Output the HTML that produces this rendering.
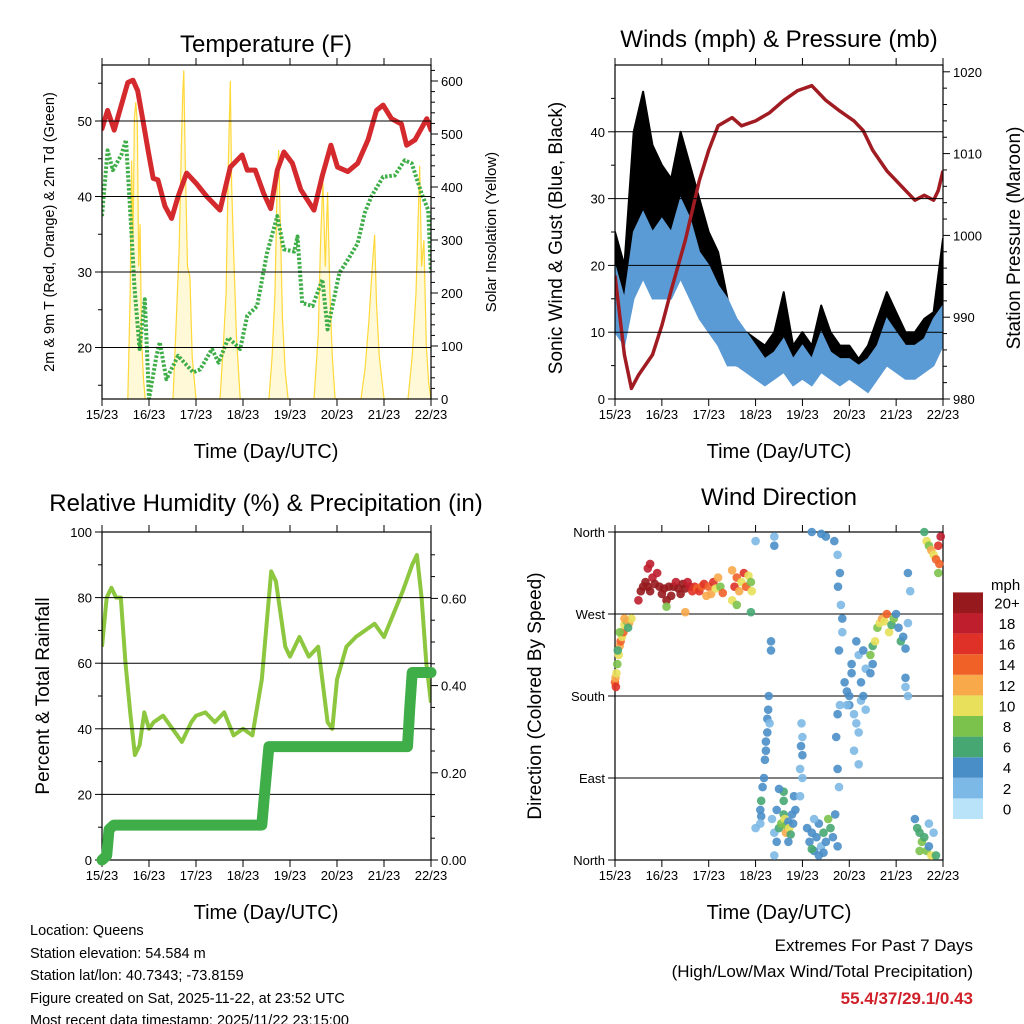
<!DOCTYPE html>
<html><head><meta charset="utf-8">
<style>
html,body{margin:0;padding:0;background:#fff;}
svg{display:block;font-family:"Liberation Sans",Arial,sans-serif;}
</style></head>
<body>
<svg id="chart" width="1024" height="1024" viewBox="0 0 1024 1024" xmlns="http://www.w3.org/2000/svg">
<rect width="1024" height="1024" fill="#fff"/>
<text x="266" y="52" font-size="24" text-anchor="middle">Temperature (F)</text>
<text x="779" y="47" font-size="24" text-anchor="middle">Winds (mph) &amp; Pressure (mb)</text>
<text x="266" y="511" font-size="24" text-anchor="middle">Relative Humidity (%) &amp; Precipitation (in)</text>
<text x="779" y="505" font-size="24" text-anchor="middle">Wind Direction</text>
<text x="266" y="458" font-size="20" text-anchor="middle">Time (Day/UTC)</text>
<text x="779" y="458" font-size="20" text-anchor="middle">Time (Day/UTC)</text>
<text x="266" y="919" font-size="20" text-anchor="middle">Time (Day/UTC)</text>
<text x="779" y="919" font-size="20" text-anchor="middle">Time (Day/UTC)</text>
<text transform="translate(54,232) rotate(-90)" font-size="14.5" text-anchor="middle">2m &amp; 9m T (Red, Orange) &amp; 2m Td (Green)</text>
<text transform="translate(496,232) rotate(-90)" font-size="15" text-anchor="middle">Solar Insolation (Yellow)</text>
<text transform="translate(562,238) rotate(-90)" font-size="19" text-anchor="middle">Sonic Wind &amp; Gust (Blue, Black)</text>
<text transform="translate(1020,238) rotate(-90)" font-size="19" text-anchor="middle">Station Pressure (Maroon)</text>
<text transform="translate(49,696) rotate(-90)" font-size="19" text-anchor="middle">Percent &amp; Total Rainfall</text>
<text transform="translate(541,696) rotate(-90)" font-size="19" text-anchor="middle">Direction (Colored By Speed)</text>
<g font-size="14.5">
<text x="30" y="935">Location: Queens</text>
<text x="30" y="958">Station elevation: 54.584 m</text>
<text x="30" y="980">Station lat/lon: 40.7343; -73.8159</text>
<text x="30" y="1003">Figure created on Sat, 2025-11-22, at 23:52 UTC</text>
<text x="30" y="1025">Most recent data timestamp: 2025/11/22 23:15:00</text>
</g>
<text x="973" y="951" font-size="17" text-anchor="end">Extremes For Past 7 Days</text>
<text x="973" y="977" font-size="17" text-anchor="end">(High/Low/Max Wind/Total Precipitation)</text>
<text x="973" y="1004" font-size="17" font-weight="bold" fill="#d0202a" text-anchor="end">55.4/37/29.1/0.43</text>
<text x="991" y="590" font-size="15">mph</text>
</svg>
<script>
// ---------- data ----------
const dayLabels = ["15/23","16/23","17/23","18/23","19/23","20/23","21/23","22/23"];
const tempTimes = [0,0.12,0.26,0.37,0.55,0.66,0.76,0.87,0.98,1.09,1.19,1.34,1.48,1.62,1.80,2.01,2.23,2.51,2.73,2.98,3.09,3.26,3.44,3.59,3.73,3.87,4.05,4.23,4.51,4.69,4.87,5.01,5.23,5.44,5.66,5.84,5.98,6.16,6.37,6.48,6.66,6.91,7.0];
const tempValues = [49.0,51.4,48.8,51.2,55.1,55.4,54.0,50.1,46.1,42.4,42.2,38.7,37.1,40.0,43.1,41.7,40.0,38.2,43.9,45.5,43.5,43.5,40.4,38.4,43.5,45.9,44.4,40.9,38.2,42.8,46.8,43.9,43.3,44.4,47.5,51.4,52.1,50.3,49.6,46.8,47.5,50.3,48.8];
const dewTimes = [0,0.12,0.23,0.41,0.51,0.62,0.69,0.80,0.91,1.0,1.16,1.23,1.37,1.62,1.94,2.09,2.34,2.48,2.69,2.94,3.09,3.30,3.51,3.73,3.87,4.09,4.16,4.26,4.48,4.69,4.80,5.05,5.23,5.44,5.59,5.73,5.98,6.23,6.44,6.59,6.80,6.94,7.0];
const dewValues = [37.4,46.1,43.5,45.5,47.5,36.0,28.1,19.8,26.4,13.2,18.9,20.7,15.8,18.9,16.7,17.1,19.8,18.0,21.3,19.8,24.2,25.5,32.5,37.4,33.0,32.7,34.7,25.9,25.5,29.0,22.4,29.9,31.6,33.8,37.8,40.0,42.6,42.8,44.8,44.4,40.4,38.2,29.9];
const solarTimes = [0.55,0.60,0.63,0.66,0.69,0.72,0.75,0.78,0.81,0.84,0.88,0.92, 1.51,1.58,1.64,1.69,1.72,1.74,1.77,1.82,1.87,1.92,2.0, 2.51,2.58,2.64,2.69,2.73,2.76,2.8,2.86,2.94, 3.55,3.62,3.68,3.73,3.76,3.79,3.84,3.9,3.96, 4.51,4.6,4.65,4.7,4.75,4.8,4.85,4.9,4.96, 5.51,5.6,5.68,5.75,5.8,5.84,5.9,6.0, 6.51,6.6,6.68,6.73,6.76,6.8,6.85,6.9,6.95,7.0];
const solarValues = [0,200,450,300,530,560,520,250,330,120,40,0, 0,150,280,480,580,620,450,250,230,80,0, 0,100,200,450,600,400,280,120,0, 0,80,200,420,470,350,150,50,0, 0,120,300,410,250,390,200,80,0, 0,60,150,250,310,180,80,0, 0,80,200,350,440,250,300,100,30,0];

const windTimes = [0,0.2,0.4,0.6,0.8,1.0,1.2,1.4,1.6,1.8,2.0,2.2,2.4,2.6,2.8,3.0,3.2,3.4,3.6,3.8,4.0,4.2,4.4,4.6,4.8,5.0,5.2,5.4,5.6,5.8,6.0,6.2,6.4,6.6,6.8,7.0];
const windLow = [10,8,15,18,15,15,15,18,15,12,10,8,5,5,4,3,2,3,4,2,3,2,4,3,2,3,2,1,3,5,4,3,3,4,5,8];
const windHigh = [20,15,25,28,25,27,25,30,27,22,20,17,15,12,10,8,6,7,9,6,8,6,10,7,6,6,5,6,8,12,10,8,8,9,12,14];
const gustLow = [14,12,20,25,20,20,18,20,18,15,12,10,6,5,5,4,3,5,6,3,5,3,6,4,4,4,3,3,5,7,6,5,4,6,6,10];
const gustHigh = [25,20,40,46,38,35,33,40,35,30,25,22,15,10,10,9,8,10,16,8,10,8,14,10,8,8,6,8,12,16,13,10,10,12,13,24];
const presTimes = [0,0.2,0.35,0.5,0.8,1.0,1.2,1.5,1.8,2.0,2.2,2.5,2.7,3.0,3.3,3.6,3.9,4.2,4.5,4.8,5.1,5.3,5.5,5.8,6.0,6.2,6.4,6.6,6.8,6.9,7.0];
const presValues = [995.1,985.4,981.3,982.9,985.4,989.0,993.3,999.4,1006.7,1010.4,1013.4,1014.4,1013.4,1014.0,1015.0,1016.5,1017.7,1018.3,1016.5,1015.2,1014.0,1012.8,1010.4,1007.9,1006.7,1005.5,1004.3,1004.9,1004.3,1005.5,1007.9];

const rhTimes = [0,0.1,0.2,0.3,0.4,0.5,0.6,0.7,0.8,0.9,1.0,1.1,1.3,1.5,1.7,1.9,2.0,2.2,2.4,2.6,2.8,3.0,3.2,3.4,3.6,3.7,3.9,4.0,4.2,4.4,4.6,4.8,4.9,5.0,5.2,5.4,5.6,5.8,6.0,6.2,6.4,6.6,6.7,6.8,6.9,7.0];
const rhValues = [65,80,83,80,80,60,45,32,35,45,40,42,44,40,36,42,44,45,42,45,38,40,38,55,88,85,65,62,68,62,65,42,40,55,65,68,70,72,68,75,82,90,93,80,60,48];
const rainTimes = [0,0.1,0.15,0.25,3.4,3.45,3.55,6.5,6.55,6.6,7.0];
const rainValues = [0,0.01,0.07,0.08,0.08,0.14,0.26,0.26,0.35,0.43,0.43];

const dirTimes = [0,0.01,0.03,0.05,0.08,0.1,0.12,0.15,0.18,0.2,0.25,0.3,0.35,0.02,0.06,0.1,0.2,0.28,
0.5,0.55,0.6,0.65,0.7,0.75,0.8,0.85,0.9,0.95,1.0,1.05,1.1,1.15,1.2,1.25,1.3,1.35,1.4,1.45,1.5,1.55,1.6,1.65,1.7,1.75,1.8,1.85,1.9,1.95,2.0,2.05,2.1,2.15,2.2,2.25,2.3,
2.5,2.55,2.6,2.65,2.7,2.75,2.8,2.85,2.9,2.92,2.5,2.6,1.1,1.5,0.7,0.75,2.9,
3.0,3.4,3.4,3.33,3.33,3.28,3.27,3.25,3.25,3.22,3.2,3.18,3.15,3.12,3.1,3.12,3.1,3.22,3.3,3.0,
3.35,3.4,3.45,3.45,3.5,3.55,3.6,3.62,3.65,3.65,3.7,3.72,3.75,3.78,3.8,3.85,3.4,3.6,3.6,3.5,3.82,3.7,
3.98,4.0,3.97,4.0,3.95,4.0,3.95,
4.1,4.15,4.2,4.25,4.3,4.35,4.35,4.4,4.45,4.5,4.55,4.6,4.65,4.7,4.75,4.2,4.45,4.25,
4.2,4.4,4.5,4.68,4.75,4.8,4.76,4.82,4.85,4.85,4.78,4.8,4.75,4.72,4.75,4.78,
4.9,4.95,5.0,5.05,5.0,5.1,5.15,5.2,5.25,5.3,5.35,5.25,5.2,5.15,5.3,5.35,5.1,5.2,5.05,4.95,
5.45,5.5,5.55,5.6,5.65,5.7,5.75,5.8,5.85,5.9,5.95,6.0,6.05,6.1,6.15,6.2,6.25,6.3,6.25,6.25,6.2,6.2,5.5,5.45,
6.4,6.45,6.5,6.55,6.6,6.65,6.7,6.75,6.8,6.7,6.5,6.85,
6.65,6.7,6.75,6.8,6.85,6.9,6.92,6.95,6.9,6.6];
const dirDegrees = [195,200,205,215,225,235,240,245,250,258,262,260,265,190,230,250,265,255,
285,295,300,305,300,295,310,303,315,300,292,298,285,300,290,300,305,298,292,303,298,305,300,295,300,298,295,300,303,290,300,292,305,298,310,300,293,
318,300,310,295,305,315,300,312,305,295,285,280,278,272,320,325,272,
350,355,345,240,230,180,165,155,140,120,110,90,80,65,55,48,40,130,150,35,
45,30,20,55,35,40,50,45,38,30,42,35,28,50,40,55,5,65,75,78,70,20,
150,135,125,115,100,90,70,
35,20,30,10,25,40,5,15,30,20,45,35,25,50,15,12,8,45,
360,358,355,350,335,315,300,280,265,250,230,170,160,135,100,80,
195,185,180,205,170,160,150,140,175,180,165,195,225,240,230,210,120,105,215,170,
225,235,240,255,260,265,262,270,250,258,265,270,255,240,245,232,260,295,315,180,200,190,215,205,
45,35,30,20,25,10,15,5,30,40,10,5,
350,345,340,335,330,345,325,355,315,360];
const dirSpeeds = [14,12,10,8,10,12,14,10,14,10,8,12,10,16,6,8,12,6,
18,20,20,20,20,20,18,20,18,20,20,20,20,20,20,20,18,20,20,20,20,18,18,16,16,14,16,14,16,12,14,12,16,10,12,8,14,
12,16,14,12,10,16,14,10,8,10,10,8,8,12,18,18,6,
2,2,4,4,4,4,4,4,4,4,4,4,4,6,4,4,2,4,2,2,
2,2,4,4,6,8,6,10,8,12,4,10,6,4,4,4,2,6,6,4,4,4,
2,2,4,4,2,2,2,
4,4,4,4,4,4,4,2,6,4,8,6,4,4,4,6,4,2,
4,4,4,4,2,4,4,2,4,2,4,2,4,4,4,2,
4,4,4,4,4,2,2,2,2,4,2,4,2,4,4,2,2,2,4,2,
8,6,10,8,10,12,10,14,10,6,8,4,4,6,4,4,2,2,4,2,4,2,4,4,
4,6,6,8,6,8,4,10,2,2,8,6,
10,8,12,10,14,16,14,18,8,6];
const speedBins = ["0","2","4","6","8","10","12","14","16","18","20+"];
const speedColors = ["#b9e3f8","#7db9e6","#4a8ec8","#47a772","#7bc24c","#e8e05a","#f8a94a","#f06128","#df3127","#bf1e2d","#961a1d"];

// ---------- helpers ----------
const NS = "http://www.w3.org/2000/svg";
const svg = document.getElementById("chart");
function mk(tag, attrs, parent) {
  const e = document.createElementNS(NS, tag);
  for (const k in attrs) e.setAttribute(k, attrs[k]);
  (parent || svg).appendChild(e);
  return e;
}
const P1 = {x0:102,x1:431,y0:65,y1:399};
const P2 = {x0:615,x1:943,y0:65,y1:399};
const P3 = {x0:102,x1:431,y0:532,y1:860};
const P4 = {x0:615,x1:943,y0:532,y1:860};
function xDay(P, d) { return P.x0 + d * (P.x1 - P.x0) / 7; }
const yTemp = v => 121 + (50 - v) * 7.55;
const ySolar = w => 399 - w * 0.53;
const yWind = v => 399 - v * 6.68;
const yPres = mb => 399 - (mb - 980) * 8.18;
const yRH = v => 860 - v * 3.28;
const yRain = v => 860 - v * 436;
const yDir = deg => 860 - deg * 0.9111;

function frame(P, name) {
  const r = mk("rect", {x:P.x0, y:P.y0, width:P.x1-P.x0, height:P.y1-P.y0, fill:"none", stroke:"#000", "stroke-width":1.2});
  
  
  for (let i = 0; i < dayLabels.length; i++) {
    const x = xDay(P, i);
    const tb = mk("line", {x1:x, x2:x, y1:P.y1, y2:P.y1+7, stroke:"#000"});
    
    
    const tt = mk("line", {x1:x, x2:x, y1:P.y0, y2:P.y0-7, stroke:"#000"});
    
    
    const lb = mk("text", {x:x, y:P.y1+20, "font-size":13, "text-anchor":"middle"});
    lb.textContent = dayLabels[i];
    
    
  }
}
function leftAxis(P, vals, labels, yf, minors, grid) {
  for (let i = 0; i < vals.length; i++) {
    const y = yf(vals[i]);
    const t = mk("line", {x1:P.x0-7, x2:P.x0, y1:y, y2:y, stroke:"#000"});
    
    
    const l = mk("text", {x:P.x0-10, y:y+5, "font-size":13, "text-anchor":"end"});
    l.textContent = labels[i];
    
    
  }
  for (const g of grid) {
    const y = yf(g);
    const gl = mk("line", {x1:P.x0, x2:P.x1, y1:y, y2:y, stroke:"#000", "stroke-width":1});
    
    
  }
  for (const m of minors) {
    const y = yf(m);
    const t = mk("line", {x1:P.x0-4, x2:P.x0, y1:y, y2:y, stroke:"#000"});
    
    
  }
}
function rightAxis(P, vals, labels, yf, minors) {
  for (let i = 0; i < vals.length; i++) {
    const y = yf(vals[i]);
    const t = mk("line", {x1:P.x1, x2:P.x1+7, y1:y, y2:y, stroke:"#000"});
    
    
    const l = mk("text", {x:P.x1+10, y:y+5, "font-size":13, "text-anchor":"start"});
    l.textContent = labels[i];
    
    
  }
  for (const m of minors) {
    const y = yf(m);
    const t = mk("line", {x1:P.x1, x2:P.x1+4, y1:y, y2:y, stroke:"#000"});
    
    
  }
}
function path(xs, ys) {
  return xs.map((x, i) => (i ? "L" : "M") + x.toFixed(1) + "," + ys[i].toFixed(1)).join("");
}
function clip(P, id) {
  const cp = mk("clipPath", {id:id});
  mk("rect", {x:P.x0, y:P.y0, width:P.x1-P.x0, height:P.y1-P.y0}, cp);
}

// ---------- Panel 1: temperature ----------
clip(P1, "c1");
const g1 = mk("g", {"clip-path":"url(#c1)"});


const solarPts = solarTimes.map((t, i) => [xDay(P1, t), ySolar(solarValues[i])]);
const solar = mk("path", {d:"M" + solarPts.map(p => p[0].toFixed(1) + "," + p[1].toFixed(1)).join("L"), fill:"#fff3b0", "fill-opacity":0.5, stroke:"#ffd83a", "stroke-width":1.2}, g1);


const dew = mk("path", {d:path(dewTimes.map(t => xDay(P1, t)), dewValues.map(yTemp)), fill:"none", stroke:"#3fae49", "stroke-width":4, "stroke-dasharray":"2.5 1.8", "stroke-linejoin":"round"}, g1);


const temp = mk("path", {d:path(tempTimes.map(t => xDay(P1, t)), tempValues.map(yTemp)), fill:"none", stroke:"#d42a2e", "stroke-width":5, "stroke-linejoin":"round", "stroke-linecap":"round"}, g1);


frame(P1, "temperature");
leftAxis(P1, [20,30,40,50], ["20","30","40","50"], yTemp, [15,25,35,45,55], [20,30,40,50]);
rightAxis(P1, [0,100,200,300,400,500,600], ["0","100","200","300","400","500","600"], ySolar, [20,40,60,80,120,140,160,180,220,240,260,280,320,340,360,380,420,440,460,480,520,540,560,580,620]);

// ---------- Panel 2: wind ----------
clip(P2, "c2");
const g2 = mk("g", {"clip-path":"url(#c2)"});


function band(lo, hi) {
  const xs = windTimes.map(t => xDay(P2, t));
  let d = "M" + xs.map((x, i) => x.toFixed(1) + "," + yWind(hi[i]).toFixed(1)).join("L");
  for (let i = xs.length - 1; i >= 0; i--) d += "L" + xs[i].toFixed(1) + "," + yWind(lo[i]).toFixed(1);
  return d + "Z";
}
const gust = mk("path", {d:band(gustLow, gustHigh), fill:"#000", stroke:"#000", "stroke-width":2, "stroke-linejoin":"round"}, g2);


const wind = mk("path", {d:band(windLow, windHigh), fill:"#5b9bd5", stroke:"#5b9bd5", "stroke-width":1.5}, g2);


const pres = mk("path", {d:path(presTimes.map(t => xDay(P2, t)), presValues.map(yPres)), fill:"none", stroke:"#a01c22", "stroke-width":3.5, "stroke-linejoin":"round"}, g2);


frame(P2, "wind");
leftAxis(P2, [0,10,20,30,40], ["0","10","20","30","40"], yWind, [5,15,25,35,45], [10,20,30,40]);
rightAxis(P2, [980,990,1000,1010,1020], ["980","990","1000","1010","1020"], yPres, [982,984,986,988,992,994,996,998,1002,1004,1006,1008,1012,1014,1016,1018]);

// ---------- Panel 3: RH & rain ----------
clip(P3, "c3");
const g3 = mk("g", {"clip-path":"url(#c3)"});


frame(P3, "humidity");
leftAxis(P3, [0,20,40,60,80,100], ["0","20","40","60","80","100"], yRH, [10,30,50,70,90], [20,40,60,80]);
rightAxis(P3, [0,0.2,0.4,0.6], ["0.00","0.20","0.40","0.60"], yRain, [0.05,0.1,0.15,0.25,0.3,0.35,0.45,0.5,0.55,0.65,0.7]);
const rh = mk("path", {d:path(rhTimes.map(t => xDay(P3, t)), rhValues.map(yRH)), fill:"none", stroke:"#8dc63f", "stroke-width":4, "stroke-linejoin":"round"}, g3);


const rain = mk("path", {d:path(rainTimes.map(t => xDay(P3, t)), rainValues.map(yRain)), fill:"none", stroke:"#3fae49", "stroke-width":11, "stroke-linejoin":"round", "stroke-linecap":"round"});



// ---------- Panel 4: wind direction ----------
frame(P4, "wind-direction");
leftAxis(P4, [0,90,180,270,360], ["North","East","South","West","North"], yDir, [], [90,180,270]);
function binIndex(s) { return Math.max(0, Math.min(10, Math.round(s / 2))); }
for (let i = 0; i < dirTimes.length; i++) {
  const c = mk("circle", {cx:xDay(P4, dirTimes[i]).toFixed(1), cy:yDir(dirDegrees[i]).toFixed(1), r:4.3, fill:speedColors[binIndex(dirSpeeds[i])], "fill-opacity":0.9});
  
  
}
// colorbar
for (let i = 0; i < speedBins.length; i++) {
  const y = 819 - (i + 1) * 20.6;
  const b = mk("rect", {x:953, y:y.toFixed(1), width:30, height:20.6, fill:speedColors[i]});
  
  
  const l = mk("text", {x:1007, y:(y + 16).toFixed(1), "font-size":15, "text-anchor":"middle"});
  l.textContent = speedBins[i];
  
  
}
</script>
</body></html>
